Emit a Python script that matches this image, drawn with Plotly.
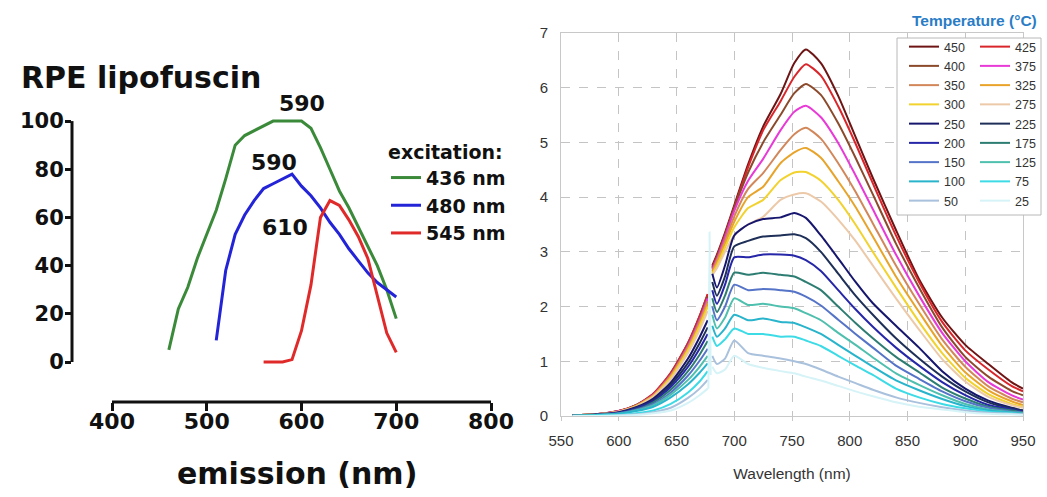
import plotly.graph_objects as go

# ---------------- Left panel: RPE lipofuscin emission spectra ----------------
emission_436_nm = [460, 470, 480, 490, 500, 510, 520, 530, 540, 550, 560, 570, 580,
                   590, 600, 610, 620, 630, 640, 650, 660, 670, 680, 690, 700]
emission_436 = [5, 22, 31, 43, 53, 63, 76, 90, 94, 96, 98, 100, 100,
                100, 100, 97, 89, 80, 71, 64, 56, 48, 40, 30, 18]

emission_480_nm = [510, 520, 530, 540, 550, 560, 570, 580, 590, 600, 610, 620, 630,
                   640, 650, 660, 670, 680, 690, 700]
emission_480 = [9, 38, 53, 61, 67, 72, 74, 76, 78, 73, 69, 64, 58,
                53, 47, 42, 37, 33, 30, 27]

emission_545_nm = [560, 570, 580, 590, 600, 610, 620, 630, 640, 650, 660, 670, 680, 690, 700]
emission_545 = [0, 0, 0, 1, 13, 32, 60, 67, 65, 59, 52, 43, 27, 12, 4]

excitation_labels = ["436 nm", "480 nm", "545 nm"]
excitation_colors = ["#3a8a3a", "#2323d8", "#e02a2a"]

peak_labels = ["590", "590", "610"]
peak_label_x = [601, 571, 583]
peak_label_y = [107.5, 83, 56]

# ---------------- Right panel: spectra vs temperature ----------------
temperatures = [450, 425, 400, 375, 350, 325, 300, 275, 250,
                225, 200, 175, 150, 125, 100, 75, 50, 25]
temperature_colors = ["#6e1414", "#d9262b", "#8c4a2c", "#e83ad6", "#d2875a", "#e8a42a",
                      "#f2d22e", "#ecc9a8", "#16166e", "#1e2f58", "#2626a8", "#2e7d72",
                      "#5574c8", "#4fbfae", "#29b4cc", "#3ddbe6", "#a9c1dc", "#d6f3f7"]

# wavelengths below and above the detector gap
wl_low = [560, 580, 600, 615, 630, 645, 660, 670, 677]
wl_high = [681, 685, 692, 700, 712, 725, 740, 752, 762, 775,
           790, 805, 820, 840, 860, 880, 900, 920, 940, 950]

low_450 = [0.01, 0.03, 0.09, 0.20, 0.40, 0.78, 1.33, 1.82, 2.22]
low_425 = [0.01, 0.03, 0.09, 0.20, 0.41, 0.79, 1.34, 1.83, 2.23]
low_400 = [0.01, 0.03, 0.09, 0.20, 0.39, 0.76, 1.31, 1.79, 2.18]
low_375 = [0.01, 0.03, 0.09, 0.19, 0.39, 0.75, 1.29, 1.76, 2.15]
low_350 = [0.01, 0.03, 0.08, 0.19, 0.38, 0.74, 1.26, 1.72, 2.10]
low_325 = [0.01, 0.03, 0.08, 0.18, 0.37, 0.72, 1.23, 1.68, 2.05]
low_300 = [0.01, 0.03, 0.08, 0.18, 0.36, 0.70, 1.20, 1.64, 2.00]
low_275 = [0.01, 0.03, 0.08, 0.17, 0.35, 0.67, 1.15, 1.57, 1.92]
low_250 = [0.01, 0.03, 0.07, 0.16, 0.32, 0.61, 1.05, 1.44, 1.75]
low_225 = [0.01, 0.02, 0.06, 0.15, 0.29, 0.57, 0.97, 1.33, 1.62]
low_200 = [0.01, 0.02, 0.06, 0.14, 0.27, 0.53, 0.90, 1.23, 1.50]
low_175 = [0.01, 0.02, 0.05, 0.12, 0.25, 0.48, 0.82, 1.12, 1.37]
low_150 = [0.01, 0.02, 0.05, 0.11, 0.22, 0.43, 0.74, 1.01, 1.23]
low_125 = [0.01, 0.02, 0.04, 0.10, 0.20, 0.39, 0.66, 0.90, 1.10]
low_100 = [0.00, 0.01, 0.04, 0.09, 0.17, 0.34, 0.58, 0.79, 0.96]
low_75 = [0.00, 0.01, 0.02, 0.05, 0.10, 0.22, 0.43, 0.63, 0.82]
low_50 = [0.00, 0.00, 0.01, 0.03, 0.07, 0.15, 0.33, 0.50, 0.66]
low_25 = [0.00, 0.00, 0.01, 0.02, 0.05, 0.10, 0.24, 0.38, 0.50]

high_450 = [2.75, 2.95, 3.35, 3.85, 4.60, 5.29, 5.88, 6.45, 6.70, 6.45,
            5.85, 5.10, 4.35, 3.40, 2.50, 1.80, 1.30, 0.95, 0.62, 0.50]
high_425 = [2.72, 2.92, 3.32, 3.82, 4.55, 5.22, 5.75, 6.20, 6.43, 6.22,
            5.66, 4.98, 4.25, 3.30, 2.45, 1.72, 1.20, 0.85, 0.55, 0.45]
high_400 = [2.70, 2.90, 3.30, 3.80, 4.45, 5.00, 5.50, 5.90, 6.07, 5.87,
            5.35, 4.72, 4.05, 3.15, 2.35, 1.62, 1.08, 0.72, 0.46, 0.38]
high_375 = [2.68, 2.87, 3.27, 3.75, 4.30, 4.70, 5.22, 5.56, 5.67, 5.46,
            4.99, 4.40, 3.78, 2.95, 2.20, 1.52, 1.00, 0.62, 0.38, 0.30]
high_350 = [2.65, 2.84, 3.20, 3.65, 4.15, 4.44, 4.86, 5.15, 5.27, 5.07,
            4.62, 4.10, 3.52, 2.75, 2.05, 1.40, 0.90, 0.54, 0.32, 0.25]
high_325 = [2.62, 2.80, 3.15, 3.55, 4.00, 4.19, 4.62, 4.82, 4.90, 4.72,
            4.29, 3.82, 3.28, 2.55, 1.90, 1.28, 0.80, 0.47, 0.27, 0.20]
high_300 = [2.60, 2.75, 3.08, 3.45, 3.80, 3.95, 4.31, 4.45, 4.46, 4.30,
            3.95, 3.50, 3.00, 2.35, 1.72, 1.15, 0.70, 0.40, 0.22, 0.17]
high_275 = [2.58, 2.70, 3.00, 3.30, 3.50, 3.64, 3.95, 4.05, 4.07, 3.92,
            3.59, 3.20, 2.75, 2.15, 1.58, 1.04, 0.63, 0.35, 0.20, 0.15]
high_250 = [2.60, 2.35, 2.75, 3.30, 3.50, 3.60, 3.63, 3.71, 3.62, 3.30,
            2.88, 2.45, 2.06, 1.65, 1.25, 0.82, 0.50, 0.28, 0.15, 0.10]
high_225 = [2.45, 2.20, 2.55, 3.10, 3.20, 3.28, 3.30, 3.32, 3.25, 3.00,
            2.60, 2.20, 1.85, 1.42, 1.05, 0.72, 0.45, 0.25, 0.14, 0.10]
high_200 = [2.30, 2.05, 2.40, 2.90, 2.90, 2.95, 2.95, 2.93, 2.85, 2.65,
            2.30, 1.95, 1.63, 1.25, 0.92, 0.62, 0.38, 0.20, 0.12, 0.08]
high_175 = [2.15, 1.90, 2.20, 2.62, 2.58, 2.62, 2.58, 2.55, 2.45, 2.30,
            2.00, 1.70, 1.42, 1.08, 0.80, 0.52, 0.32, 0.17, 0.10, 0.07]
high_150 = [2.00, 1.75, 2.00, 2.40, 2.30, 2.32, 2.30, 2.27, 2.18, 2.02,
            1.76, 1.50, 1.25, 0.92, 0.68, 0.45, 0.27, 0.15, 0.08, 0.06]
high_125 = [1.85, 1.60, 1.80, 2.15, 2.03, 2.05, 2.00, 1.97, 1.88, 1.75,
            1.52, 1.30, 1.07, 0.78, 0.57, 0.38, 0.22, 0.12, 0.07, 0.05]
high_100 = [1.65, 1.45, 1.60, 1.85, 1.75, 1.78, 1.72, 1.70, 1.62, 1.50,
            1.30, 1.10, 0.90, 0.65, 0.47, 0.31, 0.18, 0.10, 0.06, 0.04]
high_75 = [1.45, 1.28, 1.40, 1.60, 1.50, 1.50, 1.45, 1.45, 1.38, 1.28,
           1.10, 0.92, 0.75, 0.50, 0.34, 0.22, 0.14, 0.08, 0.05, 0.03]
high_50 = [1.10, 0.95, 1.05, 1.38, 1.15, 1.10, 1.05, 1.00, 0.95, 0.85,
           0.72, 0.60, 0.48, 0.34, 0.24, 0.16, 0.10, 0.06, 0.04, 0.03]
high_25 = [0.90, 0.78, 0.85, 1.10, 0.95, 0.88, 0.82, 0.78, 0.72, 0.65,
           0.55, 0.45, 0.36, 0.25, 0.17, 0.12, 0.07, 0.04, 0.03, 0.02]

# narrow spike at the detector gap on the 25 °C trace
spike_wl = [677.6, 678.6, 679.6]
spike_25 = [0.50, 3.36, 0.75]

low_by_temp = [low_450, low_425, low_400, low_375, low_350, low_325, low_300, low_275, low_250,
               low_225, low_200, low_175, low_150, low_125, low_100, low_75, low_50, low_25]
high_by_temp = [high_450, high_425, high_400, high_375, high_350, high_325, high_300, high_275,
                high_250, high_225, high_200, high_175, high_150, high_125, high_100, high_75,
                high_50, high_25]

FW, FH = 1047, 497


def px_x(p):
    """pixel column -> paper fraction"""
    return p / FW


def px_y(p):
    """pixel row -> paper fraction"""
    return 1 - p / FH


WIDE = "DejaVu Sans"
ARIAL = "Liberation Sans"
INK = "#111"
fig = go.Figure()

# ---- left panel traces
for xs, ys, name, col in zip([emission_436_nm, emission_480_nm, emission_545_nm],
                             [emission_436, emission_480, emission_545],
                             excitation_labels, excitation_colors):
    fig.add_trace(go.Scatter(x=xs, y=ys, mode="lines", name=name,
                             line=dict(color=col, width=3),
                             xaxis="x", yaxis="y", legend="legend"))

# ---- right panel traces
for i, (t, col, lo, hi) in enumerate(zip(temperatures, temperature_colors,
                                         low_by_temp, high_by_temp)):
    xs = wl_low + [None] + wl_high
    ys = lo + [None] + hi
    if t == 25:
        xs = xs + [None] + spike_wl
        ys = ys + [None] + spike_25
    fig.add_trace(go.Scatter(x=xs, y=ys, mode="lines", name=str(t),
                             line=dict(color=col, width=2, shape="spline", smoothing=0.6),
                             connectgaps=False,
                             xaxis="x2", yaxis="y2",
                             legend="legend2" if i % 2 == 0 else "legend3"))

# ---- axes (fixed geometry: no automatic margin growth)
x_left = 800 - (491 - 72) / 0.9475
fig.update_layout(
    width=FW, height=FH,
    margin=dict(l=0, r=0, t=0, b=0, autoexpand=False),
    paper_bgcolor="white", plot_bgcolor="white",
    xaxis=dict(domain=[px_x(72), px_x(491)], range=[x_left, 800], anchor="y",
               automargin=False,
               tickvals=[400, 500, 600, 700, 800], ticks="outside", ticklen=8, tickwidth=3,
               tickcolor=INK, showline=False, showgrid=False, zeroline=False,
               ticklabelstandoff=-8,
               tickfont=dict(family=WIDE, size=22, color=INK, weight="bold")),
    yaxis=dict(domain=[px_y(402), px_y(97)], range=[-16.6, 110], anchor="x",
               automargin=False,
               tickvals=[0, 20, 40, 60, 80, 100], ticks="outside", ticklen=6, tickwidth=3,
               tickcolor=INK, showline=False, showgrid=False, zeroline=False,
               ticklabelstandoff=-3,
               tickfont=dict(family=WIDE, size=21, color=INK, weight="bold")),
    xaxis2=dict(domain=[px_x(561), px_x(1023)], range=[550, 950], anchor="y2",
                automargin=False,
                dtick=50, showgrid=True, griddash="dash", gridcolor="#c4c4c4", gridwidth=1,
                showline=True, linecolor="#c8c8c8", mirror=True, zeroline=False,
                ticks="outside", ticklen=4, tickcolor="#c8c8c8", ticklabelstandoff=7,
                tickfont=dict(family=ARIAL, size=15, color="#333"),
                title=dict(text="Wavelength (nm)", standoff=20,
                           font=dict(family=ARIAL, size=15.5, color="#333"))),
    yaxis2=dict(domain=[px_y(416), px_y(33)], range=[0, 7], anchor="x2",
                automargin=False,
                dtick=1, showgrid=True, griddash="dash", gridcolor="#c4c4c4", gridwidth=1,
                showline=True, linecolor="#c8c8c8", mirror=True, zeroline=False,
                ticks="", ticklabelstandoff=9,
                tickfont=dict(family=ARIAL, size=15, color="#333")),
    showlegend=True,
    legend=dict(x=px_x(386), y=px_y(134), xanchor="left", yanchor="top",
                bgcolor="rgba(0,0,0,0)", borderwidth=0,
                title=dict(text="excitation:", font=dict(family=WIDE, size=19, color=INK,
                                                         weight="bold")),
                font=dict(family=WIDE, size=19, color=INK, weight="bold")),
    legend2=dict(x=px_x(904), y=px_y(32), xanchor="left", yanchor="top",
                 bgcolor="rgba(0,0,0,0)", borderwidth=0,
                 font=dict(family=ARIAL, size=12.5, color="#333")),
    legend3=dict(x=px_x(975), y=px_y(32), xanchor="left", yanchor="top",
                 bgcolor="rgba(0,0,0,0)", borderwidth=0,
                 font=dict(family=ARIAL, size=12.5, color="#333")),
)

shapes = [
    # offset axis lines of the left panel
    dict(type="line", xref="x domain", yref="y", x0=0, x1=0, y0=0, y1=100,
         line=dict(color=INK, width=3)),
    dict(type="line", xref="x", yref="y domain", x0=400, x1=800, y0=0, y1=0,
         line=dict(color=INK, width=3)),
    # frame for the temperature key
    dict(type="rect", xref="paper", yref="paper",
         x0=px_x(897), x1=px_x(1041), y0=px_y(215), y1=px_y(38),
         fillcolor="white", line=dict(color="#b8b8b8", width=1), layer="above"),
]
fig.update_layout(shapes=shapes)

annotations = [
    dict(text="RPE lipofuscin", xref="paper", yref="paper", x=px_x(19), y=px_y(77),
         xanchor="left", yanchor="middle", showarrow=False,
         font=dict(family=WIDE, size=30, color=INK, weight="bold")),
    dict(text="emission (nm)", xref="paper", yref="paper", x=px_x(297), y=px_y(473),
         xanchor="center", yanchor="middle", showarrow=False,
         font=dict(family=WIDE, size=30, color=INK, weight="bold")),
    dict(text="Temperature (°C)", xref="paper", yref="paper", x=px_x(974), y=px_y(21),
         xanchor="center", yanchor="middle", showarrow=False,
         font=dict(family=ARIAL, size=15.5, color="#2a7cc6", weight="bold")),
]
for lab, lx, ly in zip(peak_labels, peak_label_x, peak_label_y):
    annotations.append(dict(text=lab, xref="x", yref="y", x=lx, y=ly, showarrow=False,
                            xanchor="center", yanchor="middle",
                            font=dict(family=WIDE, size=22, color=INK, weight="bold")))
fig.update_layout(annotations=annotations)

fig.write_html("out.html")
